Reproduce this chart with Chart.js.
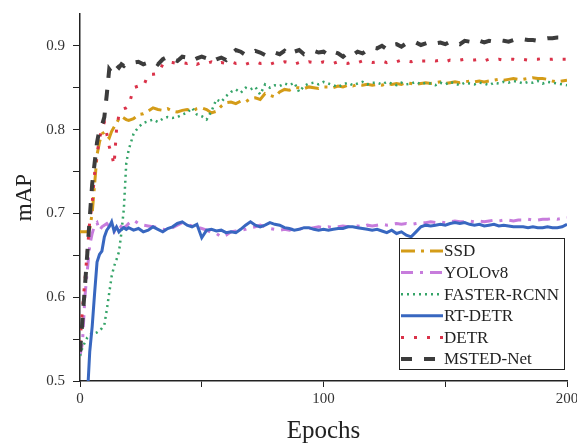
<!DOCTYPE html>
<html>
<head>
<meta charset="utf-8">
<script src="https://cdn.jsdelivr.net/npm/chart.js@4"></script>
<style>
  html, body { margin: 0; padding: 0; background: #fff; }
  #wrap { width: 577px; height: 443px; position: relative; }
</style>
</head>
<body>
<div id="wrap"><canvas id="c" width="577" height="443"></canvas></div>
<script>
// ---- Data ----
const EPOCHS = [0,1,2,3,4,5,6,7,8,9,10,11,12,13,14,15,16,17,18,19,20,
  22,24,26,28,30,32,34,36,38,40,
  42,44,46,48,50,52,54,56,58,60,
  62,64,66,68,70,72,74,76,78,80,
  82,84,86,88,90,92,94,96,98,100,
  102,104,106,108,110,112,114,116,118,120,
  122,124,126,128,130,132,134,136,138,140,
  142,144,146,148,150,152,154,156,158,160,
  162,164,166,168,170,172,174,176,178,180,
  182,184,186,188,190,192,194,196,198,200];

const SERIES_LABELS = ['SSD','YOLOv8','FASTER-RCNN','RT-DETR','DETR','MSTED-Net'];

const SSD = [0.678,0.678,0.678,0.678,0.682,0.700,0.735,0.770,0.785,0.795,0.797,0.793,0.790,0.798,0.803,0.808,0.813,0.816,0.814,0.812,0.811,
  0.813,0.818,0.819,0.822,0.826,0.824,0.823,0.825,0.822,0.821,
  0.823,0.824,0.822,0.825,0.826,0.824,0.820,0.822,0.828,0.832,
  0.833,0.831,0.834,0.833,0.837,0.838,0.836,0.843,0.841,0.839,
  0.845,0.848,0.847,0.850,0.850,0.849,0.851,0.850,0.849,0.851,
  0.851,0.850,0.852,0.851,0.853,0.852,0.854,0.853,0.854,0.853,
  0.854,0.853,0.855,0.854,0.855,0.854,0.856,0.855,0.854,0.855,
  0.856,0.855,0.856,0.857,0.855,0.856,0.857,0.856,0.857,0.858,
  0.857,0.858,0.857,0.858,0.859,0.860,0.859,0.860,0.861,0.860,
  0.860,0.861,0.862,0.861,0.861,0.860,0.858,0.857,0.858,0.859];

const YOLOV8 = [0.530,0.545,0.600,0.632,0.662,0.676,0.686,0.689,0.680,0.684,0.686,0.688,0.684,0.682,0.678,0.684,0.686,0.684,0.683,0.685,0.688,
  0.692,0.688,0.686,0.685,0.684,0.683,0.681,0.680,0.683,0.686,
  0.689,0.687,0.685,0.684,0.682,0.680,0.677,0.676,0.672,0.674,
  0.678,0.679,0.680,0.681,0.683,0.684,0.686,0.684,0.682,0.681,
  0.680,0.681,0.680,0.682,0.681,0.683,0.682,0.683,0.684,0.683,
  0.684,0.683,0.684,0.685,0.684,0.685,0.685,0.684,0.686,0.685,
  0.686,0.687,0.686,0.687,0.688,0.687,0.688,0.687,0.688,0.689,
  0.689,0.690,0.689,0.690,0.689,0.690,0.691,0.690,0.690,0.691,
  0.690,0.691,0.690,0.691,0.692,0.691,0.692,0.692,0.691,0.692,
  0.692,0.693,0.692,0.692,0.693,0.693,0.694,0.693,0.694,0.695];

const FASTER_RCNN = [0.530,0.540,0.546,0.552,0.555,0.557,0.557,0.558,0.560,0.563,0.567,0.585,0.605,0.625,0.637,0.645,0.654,0.677,0.705,0.760,0.776,
  0.795,0.803,0.808,0.810,0.812,0.809,0.813,0.815,0.814,0.815,
  0.818,0.820,0.826,0.818,0.816,0.812,0.822,0.836,0.833,0.840,
  0.845,0.848,0.844,0.850,0.848,0.851,0.842,0.854,0.850,0.853,
  0.852,0.855,0.853,0.856,0.845,0.852,0.855,0.856,0.854,0.857,
  0.855,0.853,0.851,0.854,0.856,0.853,0.855,0.857,0.854,0.856,
  0.856,0.854,0.857,0.855,0.853,0.856,0.854,0.855,0.857,0.854,
  0.856,0.855,0.853,0.856,0.854,0.857,0.855,0.853,0.856,0.855,
  0.854,0.856,0.855,0.853,0.856,0.855,0.857,0.856,0.858,0.857,
  0.855,0.857,0.856,0.858,0.855,0.857,0.856,0.855,0.854,0.853];

const RT_DETR = [null,null,null,0.480,0.535,0.565,0.605,0.642,0.651,0.655,0.672,0.680,0.684,0.690,0.679,0.684,0.678,0.681,0.683,0.681,0.683,
  0.680,0.682,0.678,0.680,0.684,0.681,0.678,0.682,0.684,0.688,
  0.690,0.686,0.684,0.687,0.671,0.680,0.681,0.679,0.680,0.677,
  0.678,0.677,0.681,0.686,0.690,0.686,0.684,0.686,0.689,0.687,
  0.686,0.683,0.682,0.680,0.681,0.683,0.683,0.681,0.680,0.681,
  0.680,0.681,0.682,0.682,0.684,0.684,0.683,0.682,0.681,0.680,
  0.681,0.679,0.677,0.680,0.676,0.678,0.674,0.672,0.678,0.684,
  0.686,0.685,0.686,0.687,0.686,0.688,0.689,0.688,0.689,0.687,
  0.686,0.687,0.685,0.686,0.687,0.685,0.686,0.685,0.684,0.684,
  0.684,0.683,0.684,0.683,0.683,0.684,0.683,0.683,0.684,0.687];

const DETR = [0.545,0.585,0.620,0.655,0.690,0.712,0.748,0.770,0.790,0.800,0.809,0.795,0.780,0.770,0.758,0.800,0.818,0.822,0.825,0.826,0.828,
  0.850,0.852,0.851,0.866,0.866,0.867,0.878,0.881,0.880,0.879,
  0.880,0.879,0.881,0.878,0.880,0.879,0.881,0.878,0.880,0.879,
  0.881,0.879,0.880,0.878,0.880,0.881,0.879,0.880,0.878,0.880,
  0.879,0.881,0.880,0.878,0.880,0.879,0.881,0.880,0.879,0.881,
  0.880,0.879,0.881,0.880,0.879,0.881,0.880,0.882,0.881,0.880,
  0.881,0.882,0.880,0.882,0.881,0.883,0.882,0.881,0.883,0.882,
  0.882,0.883,0.882,0.883,0.881,0.883,0.882,0.883,0.884,0.883,
  0.883,0.884,0.882,0.884,0.883,0.884,0.883,0.884,0.884,0.883,
  0.884,0.883,0.884,0.884,0.885,0.884,0.884,0.885,0.884,0.884];

const MSTED_NET = [0.535,0.572,0.612,0.652,0.695,0.735,0.760,0.785,0.800,0.805,0.815,0.842,0.872,0.868,0.876,0.877,0.874,0.878,0.876,0.879,0.879,
  0.880,0.881,0.878,0.880,0.882,0.878,0.884,0.887,0.884,0.882,
  0.887,0.886,0.882,0.885,0.887,0.885,0.881,0.884,0.886,0.883,
  0.890,0.895,0.893,0.889,0.891,0.894,0.892,0.889,0.893,0.892,
  0.890,0.894,0.889,0.893,0.895,0.890,0.892,0.894,0.892,0.893,
  0.889,0.893,0.891,0.887,0.892,0.889,0.893,0.891,0.895,0.898,
  0.897,0.900,0.896,0.901,0.902,0.899,0.903,0.905,0.904,0.901,
  0.903,0.905,0.903,0.904,0.902,0.905,0.904,0.902,0.906,0.905,
  0.903,0.906,0.904,0.906,0.905,0.907,0.906,0.905,0.907,0.906,
  0.908,0.907,0.907,0.906,0.908,0.909,0.909,0.910,0.910,0.910];

const X_TICK_LABELS = [0, 100, 200];
const Y_TICK_LABELS = [0.5, 0.6, 0.7, 0.8, 0.9];

// ---- Styles ----
const STYLES = [
  { color: '#d49c18', dash: [14, 6, 3, 6], width: 3 },
  { color: '#c77cdc', dash: [12, 7, 3, 7], width: 3 },
  { color: '#35a468', dash: [2, 4], width: 2.5 },
  { color: '#3867c0', dash: [], width: 3 },
  { color: '#da3249', dash: [3, 10], width: 3 },
  { color: '#3c3c3c', dash: [11, 12], width: 4 }
];
const VALUES = [SSD, YOLOV8, FASTER_RCNN, RT_DETR, DETR, MSTED_NET];

const datasets = SERIES_LABELS.map((label, i) => ({
  label,
  data: EPOCHS.map((e, k) => ({ x: e, y: VALUES[i][k] })),
  borderColor: STYLES[i].color,
  backgroundColor: STYLES[i].color,
  borderDash: STYLES[i].dash,
  borderWidth: STYLES[i].width,
  pointRadius: 0,
  tension: 0,
  fill: false,
  order: SERIES_LABELS.length - i
}));

const serif = '"Liberation Serif", "Times New Roman", serif';

const legendPlugin = {
  id: 'boxLegend',
  afterDatasetsDraw(chart) {
    const ctx = chart.ctx;
    const area = chart.chartArea;
    const bx = area.right - 168, by = area.top + 224, bw = 165, bh = 131;
    ctx.save();
    ctx.fillStyle = '#ffffff';
    ctx.fillRect(bx, by, bw, bh);
    ctx.strokeStyle = '#222';
    ctx.lineWidth = 1;
    ctx.setLineDash([]);
    ctx.strokeRect(bx + 0.5, by + 0.5, bw, bh);
    const ds = chart.data.datasets;
    ds.forEach((d, i) => {
      const y = by + 13 + i * 21.6;
      ctx.save();
      ctx.beginPath();
      ctx.strokeStyle = d.borderColor;
      ctx.lineWidth = d.borderWidth;
      ctx.setLineDash(d.borderDash || []);
      ctx.moveTo(bx + 2, y);
      ctx.lineTo(bx + 44, y);
      ctx.stroke();
      ctx.restore();
      ctx.fillStyle = '#222';
      ctx.font = '17px ' + serif;
      ctx.textBaseline = 'middle';
      ctx.textAlign = 'left';
      ctx.fillText(d.label, bx + 45, y + 1);
    });
    ctx.restore();
  }
};

new Chart(document.getElementById('c'), {
  type: 'line',
  data: { datasets },
  plugins: [legendPlugin],
  options: {
    responsive: false,
    animation: false,
    devicePixelRatio: 1,
    layout: { padding: { left: 0, right: 10, top: 14, bottom: 0 } },
    plugins: { legend: { display: false }, tooltip: { enabled: false } },
    scales: {
      x: {
        type: 'linear',
        min: 0, max: 200,
        ticks: {
          stepSize: 50,
          color: '#333',
          font: { family: serif, size: 15 },
          padding: 3,
          maxRotation: 0,
          callback: (v) => X_TICK_LABELS.includes(v) ? String(v) : ''
        },
        grid: { drawOnChartArea: false, tickLength: 6, color: '#222', tickColor: '#222' },
        border: { color: '#222', width: 1.5 },
        title: {
          display: true, text: 'Epochs', color: '#222',
          font: { family: serif, size: 25, lineHeight: 0.9 },
          padding: { top: 0, bottom: 0 }
        },
        afterFit(scale) { scale.height = 62; scale.paddingRight = 0; scale.paddingLeft = 0; }
      },
      y: {
        type: 'linear',
        min: 0.5, max: 0.938,
        ticks: {
          stepSize: 0.05,
          color: '#333',
          font: { family: serif, size: 15 },
          padding: 8,
          callback: (v) => {
            const m = Y_TICK_LABELS.find(t => Math.abs(t - v) < 1e-6);
            return m !== undefined ? m.toFixed(1) : '';
          }
        },
        afterBuildTicks(scale) {
          scale.ticks = scale.ticks.filter(t => Math.abs(Math.round(t.value * 20) - t.value * 20) < 1e-6);
        },
        grid: { drawOnChartArea: false, tickLength: 7, color: '#222', tickColor: '#222' },
        border: { color: '#222', width: 1.5 },
        title: {
          display: true, text: 'mAP', color: '#222',
          font: { family: serif, size: 23 },
          padding: { top: 11, bottom: 0 }
        },
        afterFit(scale) { scale.width = 80; scale.paddingTop = 0; }
      }
    }
  }
});
</script>
</body>
</html>
